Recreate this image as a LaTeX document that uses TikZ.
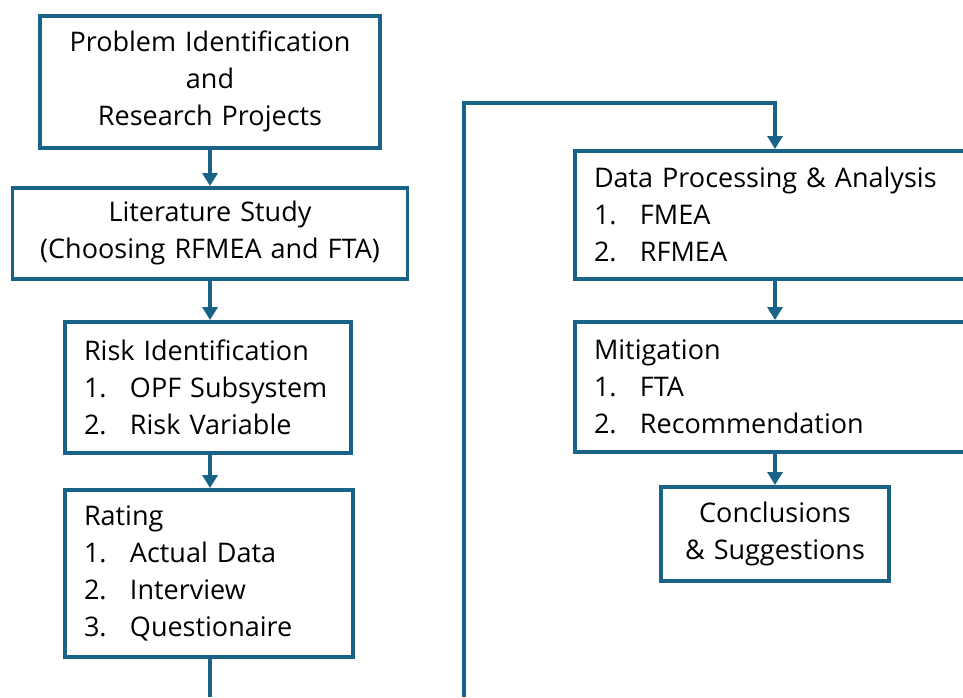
\documentclass[tikz,border=0pt]{standalone}
\usepackage{fontspec}
\setmainfont{Open Sans}
\usetikzlibrary{arrows.meta}
\definecolor{flowblue}{RGB}{24,99,135}
\tikzset{
  stepbox/.style={draw=flowblue, line width=3.5pt, fill=white, rectangle,
    inner xsep=19pt, inner ysep=0pt, anchor=north,
    font=\fontsize{27}{37}\selectfont},
  flow/.style={draw=flowblue, line width=3.5pt,
    -{Triangle[width=15pt,length=13pt]}},
  plain/.style={draw=flowblue, line width=3.5pt}
}
\newcommand{\itm}[2]{\makebox[46pt][l]{#1}#2}
\begin{document}
\begin{tikzpicture}[x=1pt,y=-1pt]
\clip (0,0) rectangle (963,697);
\fill[white] (0,0) rectangle (963,697);

% left column
\node[stepbox, align=center, text width=302pt, minimum height=132pt] (prob) at (210,14)
  {Problem Identification\\and\\Research Projects};
\node[stepbox, align=center, text width=357pt, minimum height=91pt] (lit) at (210,186)
  {Literature Study\\(Choosing RFMEA and FTA)};
\node[stepbox, align=left, text width=248pt, minimum height=131pt] (risk) at (208,320)
  {Risk Identification\\\itm{1.}{OPF Subsystem}\\\itm{2.}{Risk Variable}};
\node[stepbox, align=left, text width=250pt, minimum height=167pt] (rate) at (209,488)
  {Rating\\\itm{1.}{Actual Data}\\\itm{2.}{Interview}\\\itm{3.}{Questionaire}};

% right column
\node[stepbox, align=left, text width=362pt, minimum height=128pt] (data) at (775,149)
  {Data Processing \& Analysis\\\itm{1.}{FMEA}\\\itm{2.}{RFMEA}};
\node[stepbox, align=left, text width=362pt, minimum height=130pt] (miti) at (775,320)
  {Mitigation\\\itm{1.}{FTA}\\\itm{2.}{Recommendation}};
\node[stepbox, align=center, text width=190pt, minimum height=94pt] (conc) at (775,485)
  {Conclusions\\\& Suggestions};

% connectors
\coordinate (leftEnd) at (210,697);
\coordinate (loopStart) at (464,697);
\coordinate (loopTop) at (775,103);

\draw[flow] (prob.south) -- (lit.north);
\draw[flow] (lit.south) -- (prob.south |- risk.north);
\draw[flow] (prob.south |- risk.south) -- (prob.south |- rate.north);
\draw[plain] (prob.south |- rate.south) -- (leftEnd);

\draw[flow] (loopStart) |- (loopTop) -- (data.north);
\draw[flow] (data.south) -- (miti.north);
\draw[flow] (miti.south) -- (conc.north);
\end{tikzpicture}
\end{document}
